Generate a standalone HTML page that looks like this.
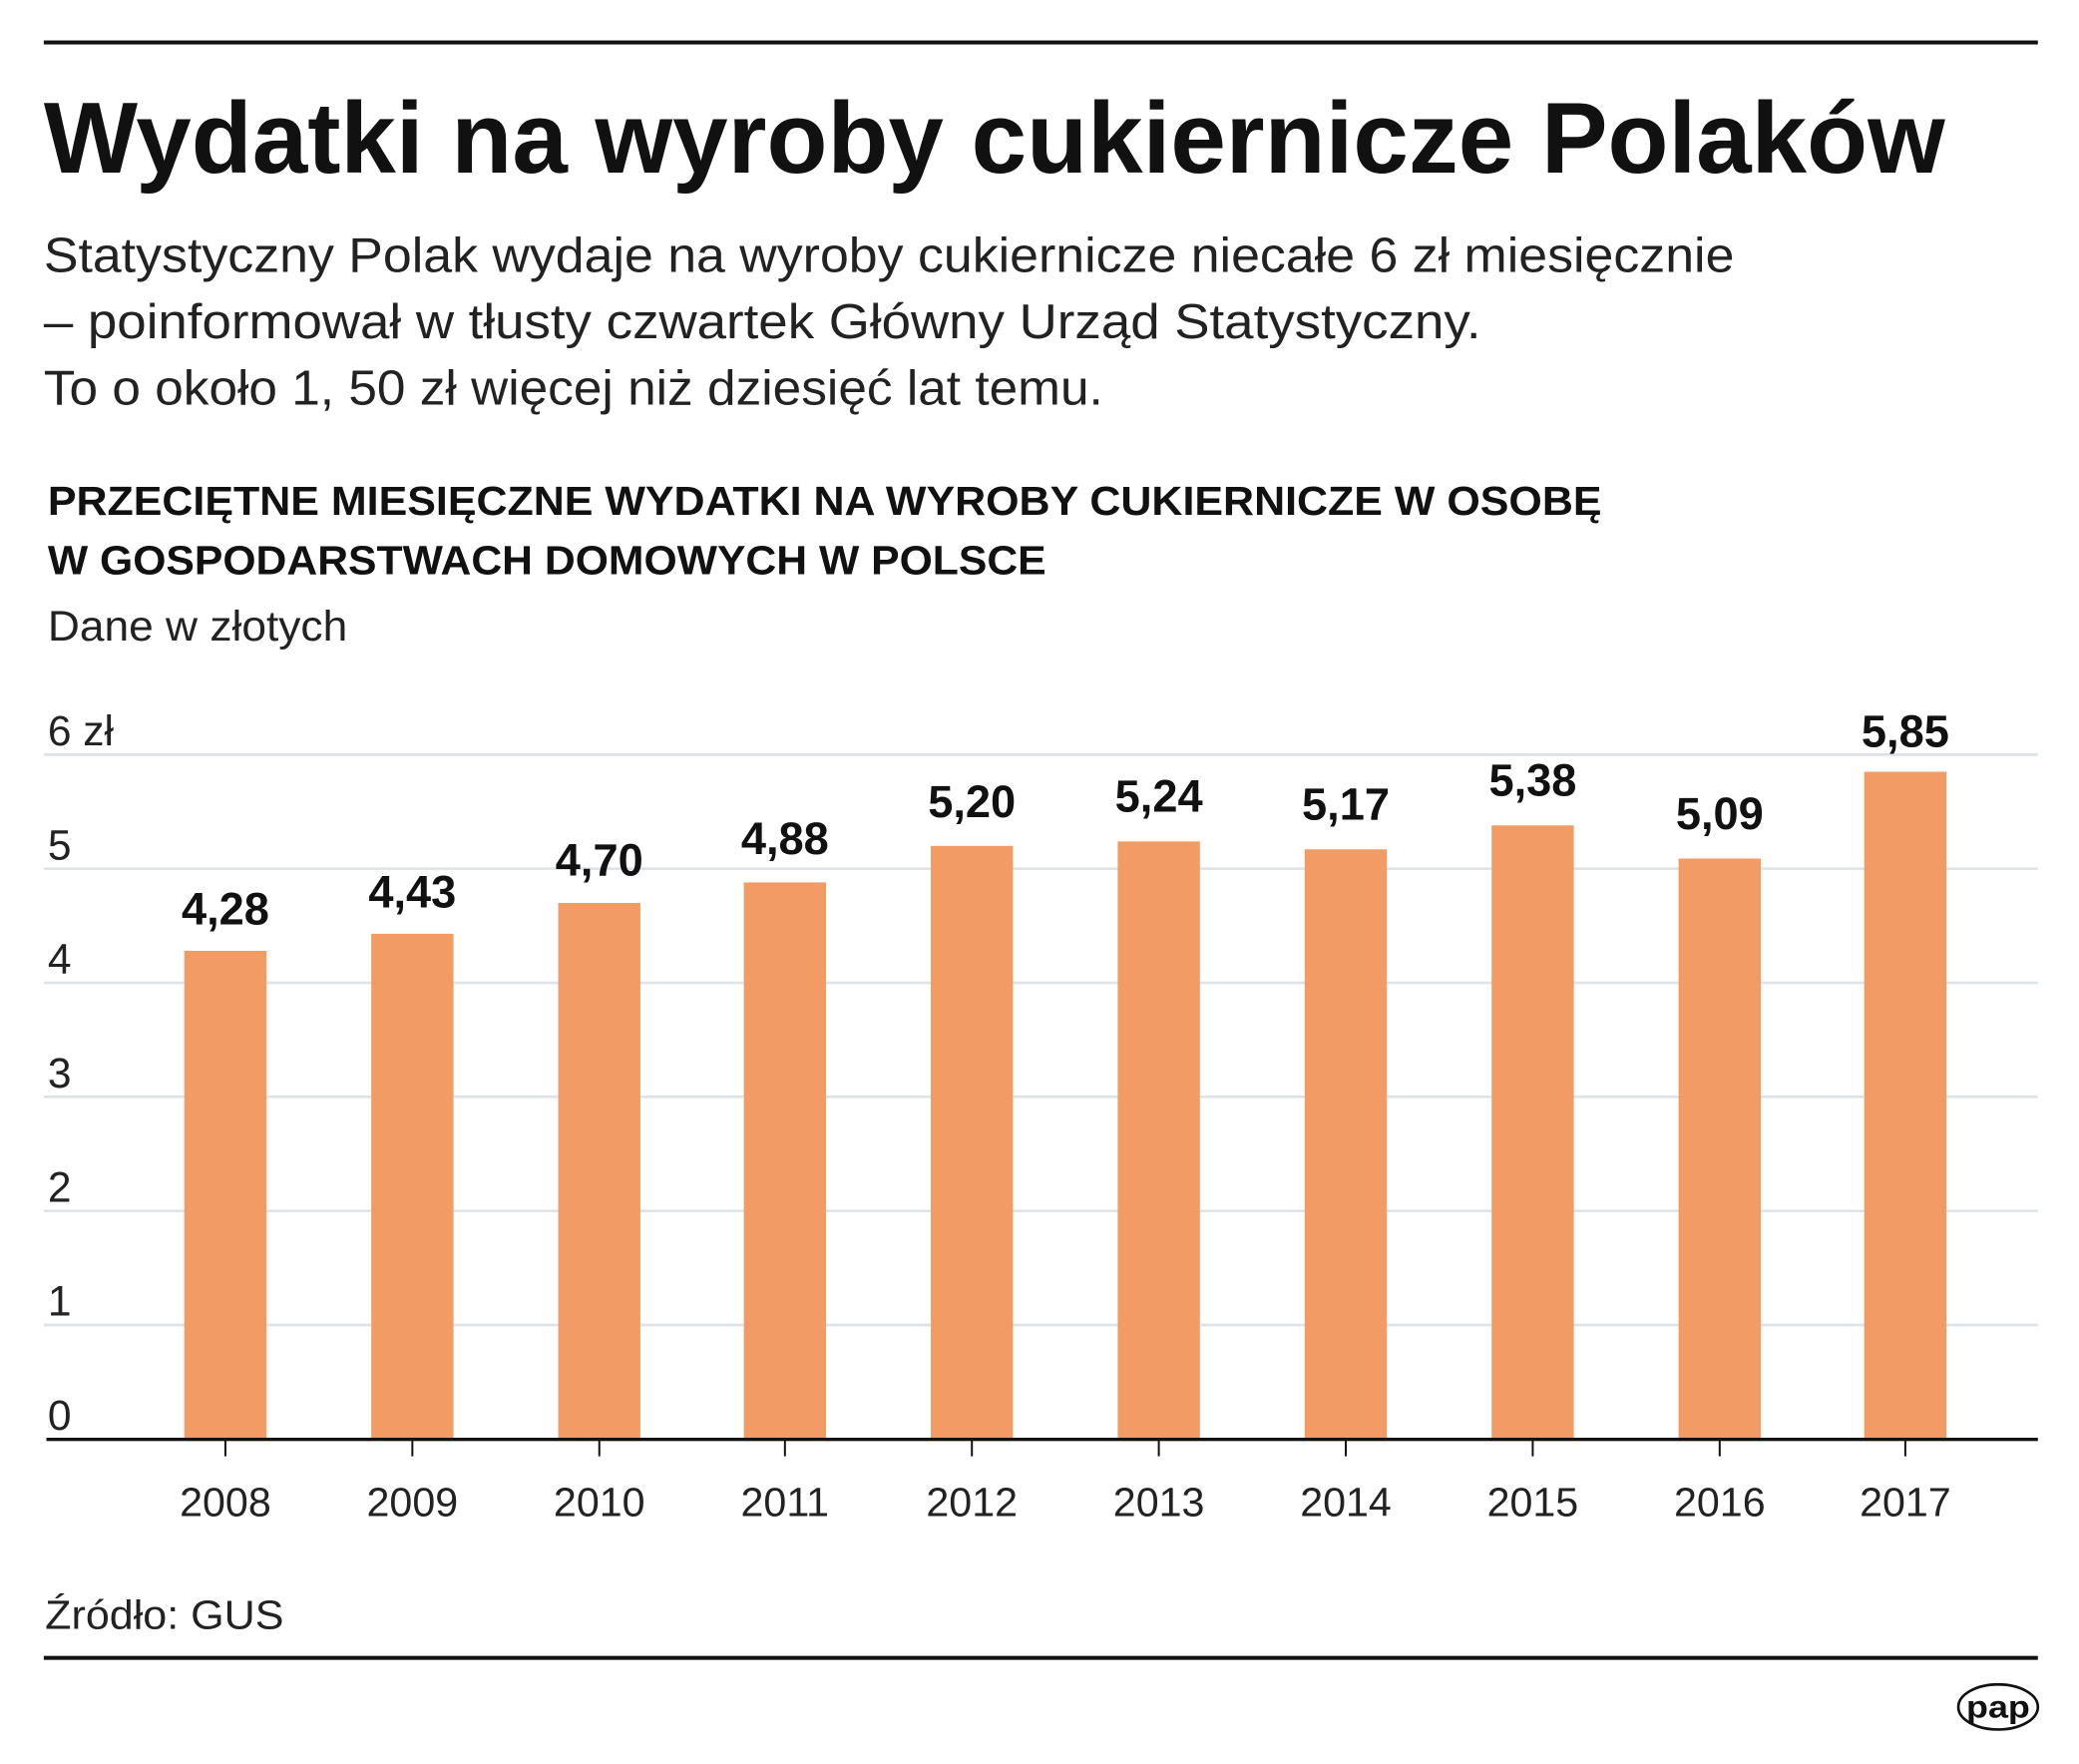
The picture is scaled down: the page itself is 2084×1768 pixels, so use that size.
<!DOCTYPE html>
<html><head><meta charset="utf-8"><style>
html,body{margin:0;padding:0;background:#fff;}
svg{display:block;}
text{font-family:"Liberation Sans","DejaVu Sans",sans-serif;}
</style></head><body>
<svg width="2084" height="1768" viewBox="0 0 1568 1330" preserveAspectRatio="none" xmlns="http://www.w3.org/2000/svg">
<rect x="0" y="0" width="1568" height="1330" fill="#fff"/>
<rect x="33" y="30.5" width="1504" height="3" fill="#111"/>
<text x="33" y="130" font-size="76" font-weight="bold" fill="#111" textLength="1434" lengthAdjust="spacingAndGlyphs">Wydatki na wyroby cukiernicze Polaków</text>
<g font-size="37" fill="#222">
<text x="33" y="205" textLength="1275" lengthAdjust="spacingAndGlyphs">Statystyczny Polak wydaje na wyroby cukiernicze niecałe 6 zł miesięcznie</text>
<text x="33" y="255" textLength="1084" lengthAdjust="spacingAndGlyphs">– poinformował w tłusty czwartek Główny Urząd Statystyczny.</text>
<text x="33" y="305" textLength="799" lengthAdjust="spacingAndGlyphs">To o około 1, 50 zł więcej niż dziesięć lat temu.</text>
</g>
<g font-size="31" font-weight="bold" fill="#111">
<text x="36" y="388" textLength="1172" lengthAdjust="spacingAndGlyphs">PRZECIĘTNE MIESIĘCZNE WYDATKI NA WYROBY CUKIERNICZE W OSOBĘ</text>
<text x="36" y="433" textLength="753" lengthAdjust="spacingAndGlyphs">W GOSPODARSTWACH DOMOWYCH W POLSCE</text>
</g>
<text x="36" y="483" font-size="32" fill="#222" textLength="226" lengthAdjust="spacingAndGlyphs">Dane w złotych</text>
<g stroke="#dde3e8" stroke-width="2">
<line x1="33" y1="569" x2="1537" y2="569"/>
<line x1="33" y1="655" x2="1537" y2="655"/>
<line x1="33" y1="741" x2="1537" y2="741"/>
<line x1="33" y1="827" x2="1537" y2="827"/>
<line x1="33" y1="913" x2="1537" y2="913"/>
<line x1="33" y1="999" x2="1537" y2="999"/>
</g>
<g font-size="32" fill="#222">
<text x="36" y="562">6 zł</text>
<text x="36" y="648">5</text>
<text x="36" y="734">4</text>
<text x="36" y="820">3</text>
<text x="36" y="906">2</text>
<text x="36" y="992">1</text>
<text x="36" y="1078">0</text>
</g>
<g fill="#f39b65">
<rect x="139" y="716.9" width="62" height="368.1"/>
<rect x="280" y="704" width="62" height="381"/>
<rect x="421" y="680.8" width="62" height="404.2"/>
<rect x="561" y="665.3" width="62" height="419.7"/>
<rect x="702" y="637.8" width="62" height="447.2"/>
<rect x="843" y="634.4" width="62" height="450.6"/>
<rect x="984" y="640.4" width="62" height="444.6"/>
<rect x="1125" y="622.3" width="62" height="462.7"/>
<rect x="1266" y="647.3" width="62" height="437.7"/>
<rect x="1406" y="581.9" width="62" height="503.1"/>
</g>
<g font-size="34" font-weight="bold" fill="#111" text-anchor="middle">
<text x="170" y="697">4,28</text>
<text x="311" y="684">4,43</text>
<text x="452" y="660">4,70</text>
<text x="592" y="644">4,88</text>
<text x="733" y="616">5,20</text>
<text x="874" y="612">5,24</text>
<text x="1015" y="618">5,17</text>
<text x="1156" y="600">5,38</text>
<text x="1297" y="625">5,09</text>
<text x="1437" y="563">5,85</text>
</g>
<rect x="35" y="1084" width="1502" height="2.5" fill="#111"/>
<g stroke="#111" stroke-width="1.5">
<line x1="170" y1="1086" x2="170" y2="1098"/><line x1="311" y1="1086" x2="311" y2="1098"/>
<line x1="452" y1="1086" x2="452" y2="1098"/><line x1="592" y1="1086" x2="592" y2="1098"/>
<line x1="733" y1="1086" x2="733" y2="1098"/><line x1="874" y1="1086" x2="874" y2="1098"/>
<line x1="1015" y1="1086" x2="1015" y2="1098"/><line x1="1156" y1="1086" x2="1156" y2="1098"/>
<line x1="1297" y1="1086" x2="1297" y2="1098"/><line x1="1437" y1="1086" x2="1437" y2="1098"/>
</g>
<g font-size="31" fill="#222" text-anchor="middle">
<text x="170" y="1143">2008</text><text x="311" y="1143">2009</text><text x="452" y="1143">2010</text>
<text x="592" y="1143">2011</text><text x="733" y="1143">2012</text><text x="874" y="1143">2013</text>
<text x="1015" y="1143">2014</text><text x="1156" y="1143">2015</text><text x="1297" y="1143">2016</text>
<text x="1437" y="1143">2017</text>
</g>
<text x="34" y="1228" font-size="31" fill="#222" textLength="180" lengthAdjust="spacingAndGlyphs">Źródło: GUS</text>
<rect x="33" y="1248.5" width="1504" height="3" fill="#111"/>
<ellipse cx="1507" cy="1287" rx="30" ry="17" fill="#fff" stroke="#111" stroke-width="2"/>
<text x="1507" y="1295" font-size="24" font-weight="bold" fill="#111" text-anchor="middle" textLength="48" lengthAdjust="spacingAndGlyphs">pap</text>
</svg>
</body></html>
